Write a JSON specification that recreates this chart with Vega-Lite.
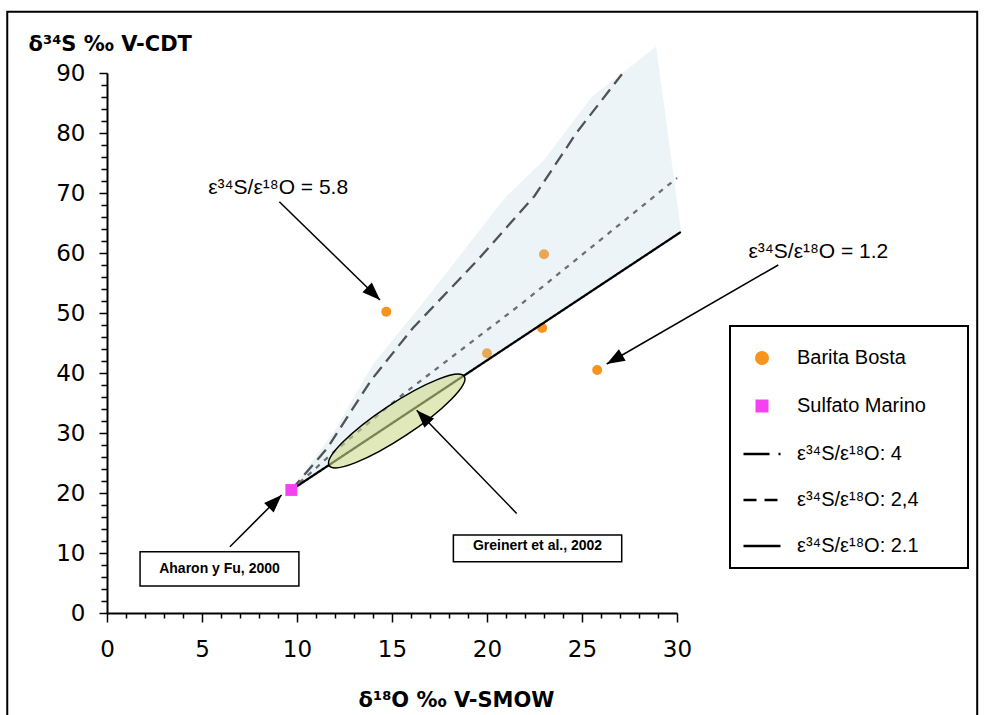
{
  "$schema": "https://vega.github.io/schema/vega-lite/v6.json",
  "width": 570,
  "height": 540,
  "autosize": {"type": "none"},
  "padding": {"left": 107, "top": 73, "right": 307, "bottom": 102},
  "background": "white",
  "config": {"view": {"stroke": null}, "axis": {"grid": false}},
  "datasets": {
    "frame": [{"o18": -5.25, "o18b": 45.8, "s34": 100.2, "s34b": -19}],
    "barita": [
      {"series": "Barita Bosta", "o18": 14.7, "s34": 50.2},
      {"series": "Barita Bosta", "o18": 23.0, "s34": 59.8},
      {"series": "Barita Bosta", "o18": 20.0, "s34": 43.3},
      {"series": "Barita Bosta", "o18": 22.9, "s34": 47.5},
      {"series": "Barita Bosta", "o18": 25.8, "s34": 40.5}
    ],
    "marino": [{"series": "Sulfato Marino", "o18": 9.7, "s34": 20.5}],
    "zone": [
      {"o18": 9.7, "s34": 20.5, "s34b": 20.5},
      {"o18": 12, "s34": 30.5, "s34b": 25.3},
      {"o18": 14, "s34": 41.5, "s34b": 29.5},
      {"o18": 16.5, "s34": 51.2, "s34b": 34.8},
      {"o18": 21, "s34": 69.4, "s34b": 44.2},
      {"o18": 23, "s34": 75.5, "s34b": 48.4},
      {"o18": 25.5, "s34": 86, "s34b": 53.7},
      {"o18": 28.9, "s34": 94.4, "s34b": 60.8},
      {"o18": 30.2, "s34": 64, "s34b": 63.5}
    ],
    "lines": [
      {"series": "ε³⁴S/ε¹⁸O: 4", "o18": 9.7, "s34": 20.5},
      {"series": "ε³⁴S/ε¹⁸O: 4", "o18": 11.6, "s34": 27.5},
      {"series": "ε³⁴S/ε¹⁸O: 4", "o18": 13.9, "s34": 38.8},
      {"series": "ε³⁴S/ε¹⁸O: 4", "o18": 16.1, "s34": 47.5},
      {"series": "ε³⁴S/ε¹⁸O: 4", "o18": 19.5, "s34": 58.8},
      {"series": "ε³⁴S/ε¹⁸O: 4", "o18": 22.5, "s34": 69.5},
      {"series": "ε³⁴S/ε¹⁸O: 4", "o18": 24.7, "s34": 80},
      {"series": "ε³⁴S/ε¹⁸O: 4", "o18": 27.1, "s34": 89.8},
      {"series": "ε³⁴S/ε¹⁸O: 2,4", "o18": 9.7, "s34": 20.5},
      {"series": "ε³⁴S/ε¹⁸O: 2,4", "o18": 12, "s34": 27},
      {"series": "ε³⁴S/ε¹⁸O: 2,4", "o18": 15.6, "s34": 36.5},
      {"series": "ε³⁴S/ε¹⁸O: 2,4", "o18": 21.8, "s34": 51.5},
      {"series": "ε³⁴S/ε¹⁸O: 2,4", "o18": 30, "s34": 72.5},
      {"series": "ε³⁴S/ε¹⁸O: 2.1", "o18": 9.7, "s34": 20.5},
      {"series": "ε³⁴S/ε¹⁸O: 2.1", "o18": 30.2, "s34": 63.5}
    ],
    "ellipse": [{"name": "Greinert et al., 2002", "o18": 15.25, "s34": 32.0}],
    "arrows": [
      {"id": "a58", "o18": 9.07, "s34": 68.55, "o18b": 14.37, "s34b": 52.17},
      {"id": "a12", "o18": 35.33, "s34": 58.0, "o18b": 26.3, "s34b": 41.5},
      {"id": "aha", "o18": 6.47, "s34": 11.05, "o18b": 9.19, "s34b": 19.67},
      {"id": "gre", "o18": 21.56, "s34": 16.6, "o18b": 16.3, "s34b": 33.8}
    ],
    "heads": [
      {"id": "a58", "o18": 14.37, "s34": 52.17},
      {"id": "a12", "o18": 26.3, "s34": 41.5},
      {"id": "aha", "o18": 9.19, "s34": 19.67},
      {"id": "gre", "o18": 16.3, "s34": 33.8}
    ],
    "boxes": [
      {"label": "Aharon y Fu, 2000", "o18": 1.74, "o18b": 10.1, "s34": 10.2, "s34b": 4.5},
      {"label": "Greinert et al., 2002", "o18": 18.23, "o18b": 27.09, "s34": 13.0, "s34b": 8.55}
    ],
    "boxtext": [
      {"label": "Aharon y Fu, 2000", "o18": 5.92, "s34": 7.33},
      {"label": "Greinert et al., 2002", "o18": 22.66, "s34": 11.2}
    ],
    "labels": [
      {"text": "ε³⁴S/ε¹⁸O = 5.8", "o18": 9.01, "s34": 70.78},
      {"text": "ε³⁴S/ε¹⁸O = 1.2", "o18": 37.44, "s34": 60.22}
    ]
  },
  "encoding": {
    "x": {
      "field": "o18", "type": "quantitative",
      "scale": {"domain": [0, 30], "nice": false, "zero": false},
      "axis": {
        "values": [0,1,2,3,4,5,6,7,8,9,10,11,12,13,14,15,16,17,18,19,20,21,22,23,24,25,26,27,28,29,30],
        "labelExpr": "datum.value % 5 === 0 ? datum.label : ''",
        "labelOverlap": false, "labelFlush": false, "labelBound": false,
        "labelFont": "DejaVu Sans", "labelFontSize": 23, "labelColor": "black", "labelPadding": 16,
        "tickSize": {"condition": {"test": "datum.value % 5 === 0", "value": 9}, "value": 5},
        "tickColor": "black", "tickWidth": 1.5,
        "domainColor": "black", "domainWidth": 2,
        "title": "δ¹⁸O ‰ V-SMOW", "titleFont": "DejaVu Sans", "titleFontWeight": "bold", "titleFontSize": 21, "titleColor": "black",
        "titleX": 349, "titleY": 93, "titleAlign": "center", "titleBaseline": "alphabetic"
      }
    },
    "y": {
      "field": "s34", "type": "quantitative",
      "scale": {"domain": [0, 90], "nice": false, "zero": false},
      "axis": {
        "values": [0,2,4,6,8,10,12,14,16,18,20,22,24,26,28,30,32,34,36,38,40,42,44,46,48,50,52,54,56,58,60,62,64,66,68,70,72,74,76,78,80,82,84,86,88,90],
        "labelExpr": "datum.value % 10 === 0 ? datum.label : ''",
        "labelOverlap": false, "labelFlush": false, "labelBound": false,
        "labelFont": "DejaVu Sans", "labelFontSize": 23, "labelColor": "black", "labelPadding": 14,
        "tickSize": {"condition": {"test": "datum.value % 10 === 0", "value": 8}, "value": 6},
        "tickColor": "black", "tickWidth": 1.5,
        "domainColor": "black", "domainWidth": 2,
        "title": "δ³⁴S ‰ V-CDT", "titleFont": "DejaVu Sans", "titleFontWeight": "bold", "titleFontSize": 21, "titleColor": "black",
        "titleAngle": 0, "titleAlign": "left", "titleBaseline": "alphabetic", "titleX": -79, "titleY": -23
      }
    }
  },
  "layer": [
    {
      "data": {"name": "frame"},
      "mark": {"type": "rect", "filled": false, "stroke": "black", "strokeWidth": 2},
      "encoding": {"x2": {"field": "o18b"}, "y2": {"field": "s34b"}}
    },
    {
      "data": {"name": "barita"},
      "mark": {"type": "point", "shape": "circle", "filled": true, "size": 100, "opacity": 1},
      "encoding": {
        "color": {
          "field": "series", "type": "nominal",
          "scale": {
            "domain": ["Barita Bosta", "Sulfato Marino", "ε³⁴S/ε¹⁸O: 4", "ε³⁴S/ε¹⁸O: 2,4", "ε³⁴S/ε¹⁸O: 2.1"],
            "range": ["#f7941e", "#f442f0", "#000000", "#000000", "#000000"]
          },
          "legend": {
            "orient": "none", "legendX": 623, "legendY": 253, "title": null,
            "symbolSize": 1369, "symbolStrokeWidth": 2.5,
            "labelFont": "Liberation Sans", "labelFontSize": 20, "labelColor": "black", "labelOffset": 15, "labelLimit": 400,
            "labelExpr": "datum.label + '\u2800\u2800'",
            "rowPadding": 16, "padding": 12,
            "strokeColor": "black", "fillColor": "white",
            "encoding": {
              "legend": {"strokeWidth": {"value": 2}},
              "symbols": {
                "shape": {"value": {"expr": "datum.value === 'Barita Bosta' ? 'circle' : datum.value === 'Sulfato Marino' ? 'square' : 'stroke'"}},
                "fill": {"value": {"expr": "datum.value === 'Barita Bosta' ? '#f7941e' : datum.value === 'Sulfato Marino' ? '#f442f0' : 'transparent'"}},
                "stroke": {"value": {"expr": "datum.value === 'Barita Bosta' || datum.value === 'Sulfato Marino' ? 'transparent' : 'black'"}},
                "strokeWidth": {"value": 2.5},
                "strokeDash": {"value": {"expr": "datum.value === 'ε³⁴S/ε¹⁸O: 4' ? [26, 9, 2, 10] : datum.value === 'ε³⁴S/ε¹⁸O: 2,4' ? [13, 8] : [1, 0]"}},
                "size": {"value": {"expr": "datum.value === 'Barita Bosta' ? 196 : datum.value === 'Sulfato Marino' ? 169 : 1369"}},
                "opacity": {"value": 1}
              }
            }
          }
        }
      }
    },
    {
      "data": {"name": "zone"},
      "mark": {"type": "area", "color": "#c4dbe3", "fillOpacity": 0.3, "line": false},
      "encoding": {"y2": {"field": "s34b"}}
    },
    {
      "data": {"name": "lines"},
      "mark": {"type": "line", "strokeWidth": 2.3},
      "encoding": {
        "stroke": {
          "field": "series", "type": "nominal",
          "scale": {
            "domain": ["ε³⁴S/ε¹⁸O: 4", "ε³⁴S/ε¹⁸O: 2,4", "ε³⁴S/ε¹⁸O: 2.1"],
            "range": ["#4d5357", "#6a6f73", "#000000"]
          },
          "legend": null
        },
        "strokeDash": {
          "field": "series", "type": "nominal",
          "scale": {
            "domain": ["ε³⁴S/ε¹⁸O: 4", "ε³⁴S/ε¹⁸O: 2,4", "ε³⁴S/ε¹⁸O: 2.1"],
            "range": [[13, 7], [5, 6], [1, 0]]
          },
          "legend": null
        }
      }
    },
    {
      "data": {"name": "ellipse"},
      "mark": {"type": "point", "shape": "M -1 0 A 1 0.21 0 1 1 1 0 A 1 0.21 0 1 1 -1 0 Z", "size": 26244, "angle": 326.5, "filled": true, "fill": "#cdd98a", "fillOpacity": 0.6, "stroke": "black", "strokeWidth": 1.5, "strokeOpacity": 1, "opacity": 1}
    },
    {
      "data": {"name": "marino"},
      "mark": {"type": "point", "shape": "square", "filled": true, "size": 140, "opacity": 1, "color": "#f442f0"}
    },
    {
      "data": {"name": "arrows"},
      "mark": {"type": "rule", "stroke": "black", "strokeWidth": 1.5},
      "encoding": {"x2": {"field": "o18b"}, "y2": {"field": "s34b"}}
    },
    {
      "data": {"name": "heads"},
      "transform": [{"filter": "datum.id === 'a58'"}],
      "mark": {"type": "point", "shape": "M 0 0 L 0.75 2 L -0.75 2 Z", "size": 324, "angle": 134.3, "filled": true, "fill": "black", "opacity": 1}
    },
    {
      "data": {"name": "heads"},
      "transform": [{"filter": "datum.id === 'a12'"}],
      "mark": {"type": "point", "shape": "M 0 0 L 0.75 2 L -0.75 2 Z", "size": 324, "angle": 240, "filled": true, "fill": "black", "opacity": 1}
    },
    {
      "data": {"name": "heads"},
      "transform": [{"filter": "datum.id === 'aha'"}],
      "mark": {"type": "point", "shape": "M 0 0 L 0.75 2 L -0.75 2 Z", "size": 324, "angle": 45, "filled": true, "fill": "black", "opacity": 1}
    },
    {
      "data": {"name": "heads"},
      "transform": [{"filter": "datum.id === 'gre'"}],
      "mark": {"type": "point", "shape": "M 0 0 L 0.75 2 L -0.75 2 Z", "size": 324, "angle": 315.9, "filled": true, "fill": "black", "opacity": 1}
    },
    {
      "data": {"name": "boxes"},
      "mark": {"type": "rect", "fill": "white", "stroke": "black", "strokeWidth": 1.5},
      "encoding": {"x2": {"field": "o18b"}, "y2": {"field": "s34b"}}
    },
    {
      "data": {"name": "boxtext"},
      "mark": {"type": "text", "font": "Liberation Sans", "fontWeight": "bold", "fontSize": 14, "color": "black", "align": "center", "baseline": "middle"},
      "encoding": {"text": {"field": "label"}}
    },
    {
      "data": {"name": "labels"},
      "mark": {"type": "text", "font": "Liberation Sans", "fontSize": 21, "color": "black", "align": "center", "baseline": "middle"},
      "encoding": {"text": {"field": "text"}}
    }
  ]
}
